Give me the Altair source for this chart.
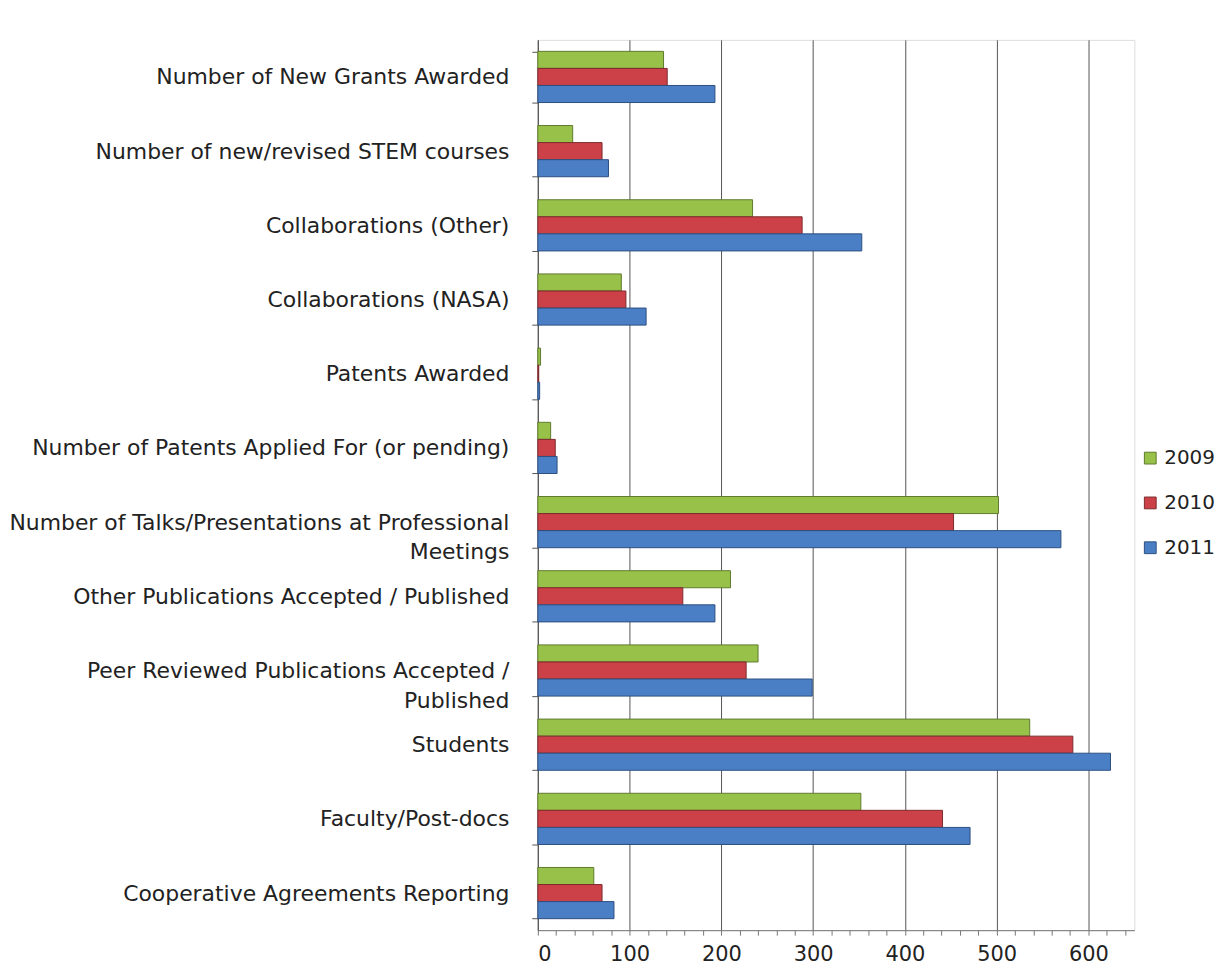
import altair as alt
import pandas as pd

categories = [
    "Number of New Grants Awarded",
    "Number of new/revised STEM  courses",
    "Collaborations (Other)",
    "Collaborations (NASA)",
    "Patents Awarded",
    "Number of Patents Applied For (or pending)",
    "Number of Talks/Presentations at Professional\nMeetings",
    "Other Publications Accepted / Published",
    "Peer Reviewed Publications Accepted /\nPublished",
    "Students",
    "Faculty/Post-docs",
    "Cooperative Agreements Reporting",
]
years = ["2009", "2010", "2011"]
v2009 = [137, 38, 234, 91, 3, 14, 502, 210, 240, 536, 352, 61]
v2010 = [141, 70, 288, 96, 1, 19, 453, 158, 227, 583, 441, 70]
v2011 = [193, 77, 353, 118, 2, 21, 570, 193, 299, 624, 471, 83]

fills = ["#98c14a", "#cc4148", "#4a7fc6"]
strokes = ["#5f7a2c", "#7e2a2c", "#2c4f80"]

rows = []
for yr, vals in zip(years, [v2009, v2010, v2011]):
    for c, v in zip(categories, vals):
        rows.append({"category": c, "year": yr, "value": v})
df = pd.DataFrame(rows)

FONT = "DejaVu Sans"

chart = (
    alt.Chart(df)
    .mark_bar(strokeWidth=1)
    .encode(
        y=alt.Y(
            "category:N",
            sort=categories,
            scale=alt.Scale(paddingInner=0.31, paddingOuter=0.155),
            axis=alt.Axis(
                title=None,
                labelExpr="isValid(datum.value) ? split(datum.value, '\\n') : ''",
                labelLimit=700,
                labelFontSize={"condition": {"test": "!isValid(datum.value)", "value": 0}, "value": 22},
                labelFont=FONT,
                labelColor="#222222",
                labelPadding=23,
                labelLineHeight=30,
                tickSize=6,
                tickBand="extent",
                domainColor="#555555",
                tickColor="#555555",
                minExtent=529,
                maxExtent=529,
            ),
        ),
        yOffset=alt.YOffset(
            "year:N", sort=years, scale=alt.Scale(paddingInner=0, paddingOuter=0)
        ),
        x=alt.X(
            "value:Q",
            scale=alt.Scale(domain=[0, 650], nice=False),
            axis=alt.Axis(
                title=None,
                values=list(range(0, 660, 20)),
                labelExpr="datum.value % 100 == 0 ? datum.label : ''",
                labelFontSize=21,
                labelFont=FONT,
                labelColor="#222222",
                labelPadding=8,
                tickSize=5,
                tickColor="#777777",
                domainColor="#777777",
                grid=True,
                gridColor="#555555",
                gridOpacity={"condition": {"test": "datum.value % 100 == 0", "value": 1}, "value": 0},
                labelOverlap=False,
            ),
        ),
        color=alt.Color(
            "year:N",
            sort=years,
            scale=alt.Scale(domain=years, range=fills),
            legend=alt.Legend(
                title=None,
                orient="none",
                legendX=605,
                legendY=410,
                labelFontSize=20,
                labelFont=FONT,
                labelColor="#222222",
                symbolType="square",
                symbolSize=140,
                symbolStrokeColor="#555555",
                symbolStrokeWidth=1,
                rowPadding=25,
                labelOffset=4,
                padding=0,
            ),
        ),
        stroke=alt.Stroke(
            "year:N", scale=alt.Scale(domain=years, range=strokes), legend=None
        ),
    )
    .properties(width=599, height=894, padding={"top": 30, "left": 0, "right": 0, "bottom": 0})
    .configure_view(fill="#ececec", strokeWidth=0)
    .configure(background="white")
)

chart.save("out.html", embed_options={"renderer": "svg", "actions": False})
